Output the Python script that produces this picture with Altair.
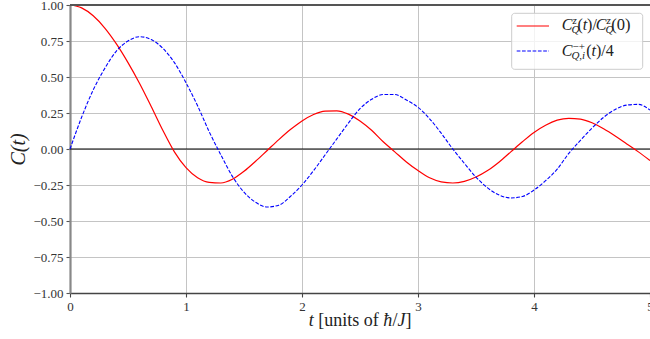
import altair as alt
import pandas as pd

# time grid, units of hbar/J
t = [round(0.1 * i, 1) for i in range(51)]

# normalised longitudinal correlator C_Q^z(t)/C_Q^z(0)
c_z = [1.00, 0.98, 0.925, 0.84, 0.73, 0.60, 0.455, 0.295, 0.13, -0.02,
       -0.13, -0.20, -0.232, -0.236, -0.21, -0.155, -0.085, -0.01, 0.065, 0.135,
       0.195, 0.24, 0.263, 0.265, 0.242, 0.195, 0.13, 0.05, -0.02, -0.09,
       -0.15, -0.20, -0.228, -0.236, -0.225, -0.195, -0.15, -0.09, -0.02, 0.05,
       0.115, 0.165, 0.20, 0.213, 0.208, 0.182, 0.14, 0.09, 0.035, -0.02,
       -0.08]

# transverse correlator C_{Q,i}^{-+}(t), divided by 4
c_pm = [0.00, 0.22, 0.41, 0.56, 0.68, 0.75, 0.78, 0.76, 0.70, 0.60,
        0.46, 0.30, 0.12, -0.04, -0.19, -0.30, -0.37, -0.403, -0.39, -0.33,
        -0.25, -0.15, -0.04, 0.07, 0.18, 0.28, 0.345, 0.378, 0.378, 0.34,
        0.29, 0.21, 0.11, 0.00, -0.10, -0.195, -0.27, -0.32, -0.34, -0.33,
        -0.285, -0.22, -0.14, -0.03, 0.06, 0.145, 0.22, 0.275, 0.305, 0.31,
        0.27]

x_ticks = [0, 1, 2, 3, 4, 5]
y_ticks = [-1.0, -0.75, -0.5, -0.25, 0.0, 0.25, 0.5, 0.75, 1.0]

SERIF = "Liberation Serif"
W, H = 580, 288

df = pd.DataFrame({"t": t, "cz": c_z, "cpm": c_pm})

x_axis = alt.Axis(values=x_ticks, format="d", title=None,
                  domainColor="#444444", domainWidth=1.6,
                  tickColor="#444444")
x_scale = alt.Scale(domain=[0, 5], nice=False, zero=False)
y_axis = alt.Axis(values=y_ticks, format=".2f", title="C(t)",
                  titleFont=SERIF, titleFontStyle="italic", titleFontSize=20,
                  titlePadding=4,
                  domainColor="#888888", domainWidth=2.2,
                  tickColor="#555555")
y_scale = alt.Scale(domain=[-1, 1], nice=False)

base = alt.Chart(df)

red = base.mark_line(color="#ff0000", strokeWidth=1.2, interpolate="monotone").encode(
    x=alt.X("t:Q", scale=x_scale, axis=x_axis),
    y=alt.Y("cz:Q", scale=y_scale, axis=y_axis))
blue = base.mark_line(color="#0000ff", strokeWidth=1.1, strokeDash=[3.7, 1.6],
                      interpolate="monotone").encode(
    x=alt.X("t:Q", scale=x_scale, axis=x_axis),
    y=alt.Y("cpm:Q", scale=y_scale, axis=y_axis))

# horizontal reference at zero and upper frame line
zero_line = alt.Chart(pd.DataFrame({"v": [0.0]})).mark_rule(
    color="#000000", strokeWidth=1.1).encode(
    y=alt.Y("v:Q", scale=y_scale, axis=y_axis))
top_line = alt.Chart(pd.DataFrame({"v": [1.0]})).mark_rule(
    color="#555555", strokeWidth=2).encode(
    y=alt.Y("v:Q", scale=y_scale, axis=y_axis))

one = pd.DataFrame({"k": [0]})

# legend frame and samples
legend_box = alt.Chart(one).mark_rect(
    fill="white", fillOpacity=0.8, stroke="#cccccc", strokeWidth=1,
    cornerRadius=3).encode(
    x=alt.value(441.7), x2=alt.value(572.7), y=alt.value(8.3), y2=alt.value(64.3))
legend_red = alt.Chart(one).mark_rule(color="#ff0000", strokeWidth=1.2).encode(
    x=alt.value(446.7), x2=alt.value(479), y=alt.value(21))
legend_blue = alt.Chart(one).mark_rule(color="#0000ff", strokeWidth=1.1,
                                       strokeDash=[3.7, 1.6]).encode(
    x=alt.value(446.7), x2=alt.value(479), y=alt.value(46))


def piece(text, x, y, size, italic, color="#222222"):
    mark_kw = dict(text=text, font=SERIF, fontSize=size, align="left",
                   baseline="alphabetic", color=color)
    if italic:
        mark_kw["fontStyle"] = "italic"
    return alt.Chart(one).mark_text(**mark_kw).encode(
        x=alt.value(x), y=alt.value(y))


# legend labels set as mathematical text: C_Q^z(t)/C_Q^z(0) and C_{Q,i}^{-+}(t)/4
r1, r2 = 25.3, 51.0
label_pieces = [
    piece("C", 491.7, r1, 16, True),
    piece("z", 502.6, r1 - 6.6, 11, True),
    piece("Q", 501.4, r1 + 2.8, 11, True),
    piece("(", 507.4, r1, 16, False),
    piece("t", 512.7, r1, 16, True),
    piece(")/", 517.1, r1, 16, False),
    piece("C", 525.7, r1, 16, True),
    piece("z", 536.6, r1 - 6.6, 11, True),
    piece("Q", 535.4, r1 + 2.8, 11, True),
    piece("(0)", 541.2, r1, 16.5, False),
    piece("C", 491.7, r2, 16, True),
    piece("−+", 502.6, r2 - 5.6, 11, False),
    piece("Q,i", 501.4, r2 + 3.4, 11, True),
    piece("(", 516.2, r2, 16, False),
    piece("t", 521.5, r2, 16, True),
    piece(")/4", 525.9, r2, 16, False),
]

# x-axis title "t [units of ħ/J]" with italic symbols
xb = H + 33
title_pieces = [
    piece("t", 238.7, xb, 18, True),
    piece("[units of", 248.2, xb, 18, False),
    piece("ħ", 313.2, xb, 18, True),
    piece("/", 322.4, xb, 18, False),
    piece("J", 327.4, xb, 18, True),
    piece("]", 335.6, xb, 18, False),
]

chart = alt.layer(
    zero_line, red, blue, top_line, legend_box, legend_red, legend_blue,
    *label_pieces, *title_pieces
).properties(
    width=W, height=H,
    autosize=alt.AutoSizeParams(type="none"),
    padding={"left": 70, "top": 5, "right": 0, "bottom": 46},
).configure_view(
    stroke=None
).configure_axis(
    grid=True, gridColor="#c4c4c4", gridWidth=1,
    labelFont=SERIF, labelFontSize=13, labelColor="#333333",
    labelPadding=3, tickSize=4, tickWidth=1.1, labelOverlap=False,
    titleFont=SERIF, titleFontWeight="normal", titleColor="#222222",
    titleFontSize=18,
).configure_axisX(
    labelFlush=False,
).configure_axisY(
    labelFlush=False,
)

chart.save("out.html", embed_options={"renderer": "svg", "actions": False})
